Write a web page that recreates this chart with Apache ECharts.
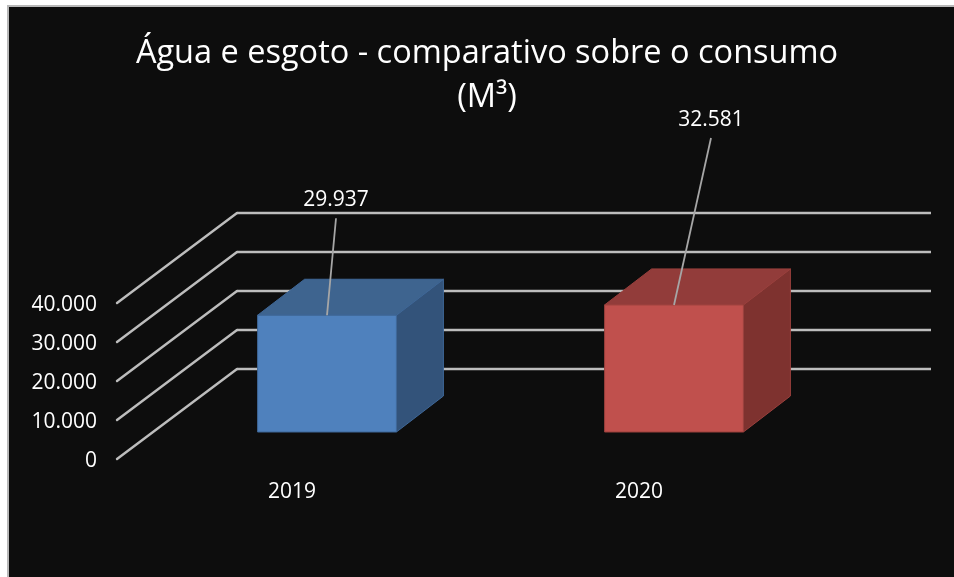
<!DOCTYPE html>
<html>
<head>
<meta charset="utf-8">
<style>html,body{margin:0;padding:0;background:#fff}#c{width:954px;height:577px}</style>
<script src="https://cdn.jsdelivr.net/npm/echarts@6/dist/echarts.min.js"></script>
</head>
<body>
<div id="c"></div>
<script>
const titleText = 'Água e esgoto - comparativo sobre o consumo\n(M³)';
const categories = ['2019', '2020'];
const values = [29937, 32581];
const valueLabels = ['29.937', '32.581'];
const yTicks = [0, 10000, 20000, 30000, 40000];

const FONT = '"Open Sans", sans-serif';
const frontColors = ['#4f81bd', '#c0504d'];
const topColors = ['#3e648f', '#923c3a'];
const sideColors = ['#33537a', '#7e322f'];
const edgeColors = ['#3f6797', '#9a403d'];
const leaderEnds = [[9, -97], [37, -167]];
const labelGap = 18;
// perspective: front plane to back wall, bar floor shift and bar depth
const wall = [120, -90];
const barShift = [36.5, -27];
const barDepth = [47, -36];

function fmt(v) { return String(v).replace(/\B(?=(\d{3})+$)/g, '.'); }

function renderDiagonal(params, api) {
  const y = api.coord([0, api.value(0)])[1];
  const x = params.coordSys.x;
  return {
    type: 'line',
    shape: { x1: x, y1: y, x2: x + wall[0], y2: y + wall[1] },
    style: { stroke: '#bdbdbd', lineWidth: 2.4, lineCap: 'round' }
  };
}

function renderBar(params, api) {
  const i = params.dataIndex;
  const top = api.coord([i, api.value(1)]);
  const base = api.coord([i, 0]);
  const w = api.size([1, 0])[0] * 0.4;
  const xl = top[0] - w / 2 + barShift[0];
  const xr = xl + w;
  const yt = top[1] + barShift[1];
  const yb = base[1] + barShift[1];
  const dx = barDepth[0], dy = barDepth[1];
  const cx = (xl + xr) / 2;
  const end = leaderEnds[i];
  const poly = (points, fill) => ({
    type: 'polygon',
    shape: { points },
    style: { fill, stroke: edgeColors[i], lineWidth: 1 }
  });
  return {
    type: 'group',
    children: [
      poly([[xr, yt], [xr + dx, yt + dy], [xr + dx, yb + dy], [xr, yb]], sideColors[i]),
      poly([[xl, yt], [xl + dx, yt + dy], [xr + dx, yt + dy], [xr, yt]], topColors[i]),
      poly([[xl, yt], [xr, yt], [xr, yb], [xl, yb]], frontColors[i]),
      {
        type: 'line',
        shape: { x1: cx, y1: yt, x2: cx + end[0], y2: yt + end[1] },
        style: { stroke: '#a6a6a6', lineWidth: 1.8 }
      },
      {
        type: 'text',
        style: {
          x: cx + end[0], y: yt + end[1] - labelGap,
          text: valueLabels[i], fill: '#fff', font: '21px ' + FONT,
          textAlign: 'center', textVerticalAlign: 'middle'
        }
      }
    ]
  };
}

const chart = echarts.init(document.getElementById('c'), null, { renderer: 'canvas' });
chart.setOption({
  backgroundColor: '#ffffff',
  animation: false,
  graphic: [{
    type: 'rect', z: -10, silent: true,
    shape: { x: 8, y: 6, width: 950, height: 575 },
    style: { fill: '#0d0d0d', stroke: '#b8b8b8', lineWidth: 2 }
  }],
  title: {
    text: titleText,
    left: 482, top: 27, textAlign: 'center',
    textStyle: { color: '#fff', fontFamily: FONT, fontSize: 32.5, fontWeight: 'normal', lineHeight: 44 }
  },
  grid: [
    { left: 117, width: 694, top: 303, height: 156 },
    { left: 237, width: 694, top: 213, height: 156 }
  ],
  xAxis: [
    {
      type: 'category', gridIndex: 0, data: categories,
      axisLine: { show: false }, axisTick: { show: false },
      axisLabel: { color: '#fff', fontFamily: FONT, fontSize: 21, margin: 23, padding: [0, 0, 0, 3] }
    },
    { type: 'category', gridIndex: 1, data: categories, show: false }
  ],
  yAxis: [
    {
      type: 'value', gridIndex: 0, min: 0, max: 40000, interval: 10000,
      axisLine: { show: false }, axisTick: { show: false }, splitLine: { show: false },
      axisLabel: { color: '#fff', fontFamily: FONT, fontSize: 21, margin: 20, verticalAlign: 'top', lineHeight: 4, formatter: fmt }
    },
    {
      type: 'value', gridIndex: 1, min: 0, max: 40000, interval: 10000,
      axisLine: { show: false }, axisTick: { show: false }, axisLabel: { show: false },
      splitLine: { show: true, lineStyle: { color: '#bdbdbd', width: 2.4 } }
    }
  ],
  series: [
    {
      type: 'custom', xAxisIndex: 0, yAxisIndex: 0, z: 1, clip: false, silent: true,
      renderItem: renderDiagonal,
      encode: { y: 0 },
      data: yTicks.map(v => [v])
    },
    {
      type: 'custom', xAxisIndex: 0, yAxisIndex: 0, z: 5, clip: false,
      renderItem: renderBar,
      encode: { x: 0, y: 1 },
      data: values.map((v, i) => [i, v])
    }
  ]
});
</script>
</body>
</html>
